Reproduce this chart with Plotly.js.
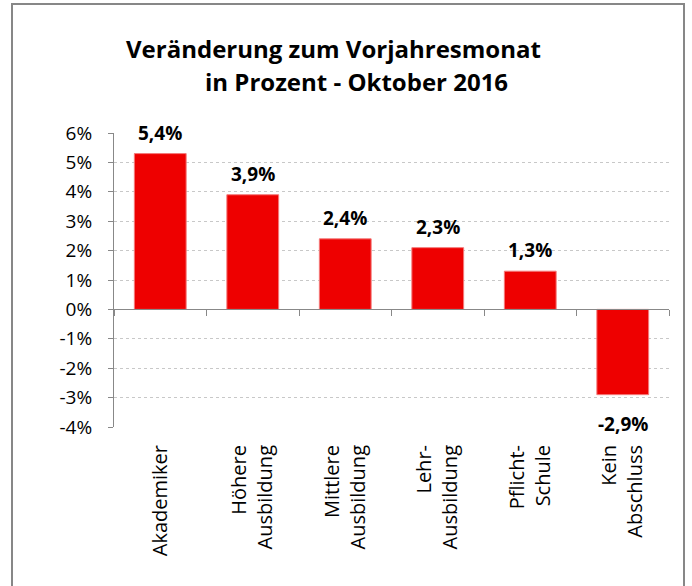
<!DOCTYPE html>
<html><head><meta charset="utf-8">
<script src="https://cdn.plot.ly/plotly-3.0.1.min.js"></script>
<style>
html,body{margin:0;padding:0;background:#fff;}
#wrap{position:relative;width:692px;height:586px;}
#chart{width:692px;height:586px;}
#frame{position:absolute;left:11px;top:3px;width:670px;height:600px;border:2px solid #878787;pointer-events:none;}
</style></head>
<body><div id="wrap"><div id="chart"></div><div id="frame"></div></div>
<script>
const categories = ["Akademiker", "Höhere<br>Ausbildung", "Mittlere<br>Ausbildung", "Lehr-<br>Ausbildung", "Pflicht-<br>Schule", "Kein<br>Abschluss"];
const values = [5.3, 3.9, 2.4, 2.1, 1.3, -2.9];
const valueLabels = ["5,4%", "3,9%", "2,4%", "2,3%", "1,3%", "-2,9%"];
const yTickVals = [-4, -3, -2, -1, 0, 1, 2, 3, 4, 5, 6];
const yTickText = ["-4%", "-3%", "-2%", "-1%", "0%", "1%", "2%", "3%", "4%", "5%", "6%"];

const FONT = "'Open Sans', 'Noto Sans', sans-serif";

const trace = {
  type: "bar",
  x: categories,
  y: values,
  cliponaxis: false,
  marker: {color: "#ee0000", line: {color: "#f47a7a", width: 1}},
  hoverinfo: "skip"
};
const trace2 = {
  type: "bar", x: categories, y: values.map(() => null), xaxis: "x2", yaxis: "y",
  showlegend: false, hoverinfo: "skip"
};

const labelAnnotations = categories.map((c, i) => ({
  x: c, y: values[i], xref: "x", yref: "y",
  text: "<b>" + valueLabels[i] + "</b>",
  showarrow: false,
  yanchor: values[i] >= 0 ? "bottom" : "top",
  yshift: values[i] >= 0 ? 6 : -14,
  font: {family: FONT, size: 19, color: "#000"}
}));

const layout = {
  width: 692, height: 586,
  margin: {l: 114, r: 23, t: 133, b: 159},
  paper_bgcolor: "#fff", plot_bgcolor: "#fff",
  showlegend: false,
  bargap: 0.44,
  font: {family: FONT, color: "#000", size: 18},
  xaxis: {
    type: "category",
    showgrid: false, zeroline: false, showline: false,
    tickangle: -90,
    ticks: "outside", ticklen: 9, tickcolor: "rgba(0,0,0,0)",
    tickfont: {family: FONT, size: 20, color: "#000"}
  },
  xaxis2: {
    type: "category", overlaying: "x", matches: "x", anchor: "free", position: 0.4,
    showgrid: false, zeroline: false, showline: true, linecolor: "#888", linewidth: 1,
    showticklabels: false, ticks: "outside", ticklen: 6, tickcolor: "#888", tickson: "boundaries"
  },
  yaxis: {
    range: [-4, 6],
    tickvals: yTickVals, ticktext: yTickText,
    showgrid: true, gridcolor: "#c8c8c8", griddash: "dot", gridwidth: 1,
    zeroline: false,
    showline: true, linecolor: "#888", linewidth: 1,
    ticks: "outside", ticklen: 5, tickcolor: "#888",
    ticklabelstandoff: 12,
    tickfont: {family: FONT, size: 19, color: "#000"}
  },
  annotations: [
    {text: "<b>Veränderung zum Vorjahresmonat</b>", xref: "paper", yref: "paper",
     x: (333 - 114) / 555, y: 1 + (133 - 48) / 294, xanchor: "center", yanchor: "middle",
     showarrow: false, font: {family: FONT, size: 24, color: "#000"}},
    {text: "<b>in Prozent - Oktober 2016</b>", xref: "paper", yref: "paper",
     x: (356 - 114) / 555, y: 1 + (133 - 82) / 294, xanchor: "center", yanchor: "middle",
     showarrow: false, font: {family: FONT, size: 24, color: "#000"}}
  ].concat(labelAnnotations)
};

Plotly.newPlot("chart", [trace, trace2], layout, {displayModeBar: false, staticPlot: true});
</script></body></html>
